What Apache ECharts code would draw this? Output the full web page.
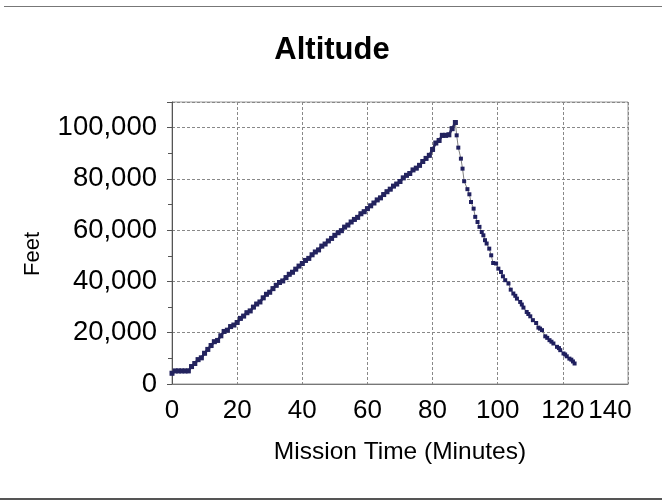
<!DOCTYPE html>
<html>
<head>
<meta charset="utf-8">
<script src="https://cdn.jsdelivr.net/npm/echarts@6/dist/echarts.min.js"></script>
<style>
html,body{margin:0;padding:0;background:#fff;}
#chart{width:662px;height:503px;}
</style>
</head>
<body>
<div id="chart"></div>
<script>
// Ascent: minutes and altitude (feet)
const ascentTime = [0,1,2,3,4,5,6,7,8,9,10,11,12,13,14,15,16,17,18,19,20,21,22,23,24,25,26,27,28,29,30,31,32,33,34,35,36,37,38,39,40,41,42,43,44,45,46,47,48,49,50,51,52,53,54,55,56,57,58,59,60,61,62,63,64,65,66,67,68,69,70,71,72,73,74,75,76,77,78,79,80,81,82,83,84,85,86,87];
const ascentFeet = [4200,5100,5100,5100,5100,5100,6800,8000,9500,10200,12000,13500,15000,16500,17000,18800,20500,21000,22400,23000,24000,25600,26500,27800,28500,30000,31200,32000,33600,35000,35800,37200,38500,39600,40200,41500,42800,43600,44800,46000,47000,48200,49000,50400,51500,52300,53800,54600,55800,56800,58000,59000,59800,61200,62000,63200,64200,65000,66400,67200,68400,69500,70600,71800,72600,73900,75000,76000,77200,78000,79000,80400,81400,82100,83500,84200,85300,86800,88000,89200,91500,94000,95000,97000,97000,97200,99600,102000];
// Descent
const descentTime = [87.4,87.9,88.7,89.2,89.7,90.7,91.3,91.8,92.6,93.1,93.8,94.4,95.1,95.6,96.1,96.6,97.4,98.0,98.6,99.5,100.2,101.0,101.6,102.3,103.3,104.0,104.8,105.4,105.9,106.9,107.4,107.9,108.9,109.4,110.0,110.8,111.8,112.5,113.0,113.6,114.6,115.2,115.9,116.5,117.1,118.2,118.8,119.2,120.2,120.7,121.2,122.0,122.6,123.1,123.6];
const descentFeet = [97000,92200,87900,84000,79100,76000,74000,71000,68400,65200,63200,61300,59300,58000,56100,54800,52800,50200,47200,47000,45000,43700,42000,40500,39200,36800,35300,34400,33300,32000,31000,29800,28100,27300,26400,24900,23800,22000,21600,21000,18600,18000,17100,16500,15800,14500,14000,13200,11900,11500,10800,9900,9500,8800,8000];

const yTicks = [0,20000,40000,60000,80000,100000];

const ascent = ascentTime.map((t,i)=>[t, ascentFeet[i]]);
const descent = descentTime.map((t,i)=>[t, descentFeet[i]]);

const chart = echarts.init(document.getElementById('chart'), null, {renderer:'canvas'});
const font = '"Liberation Sans", Arial, sans-serif';
chart.setOption({
  animation:false,
  backgroundColor:'#ffffff',
  title:{
    text:'Altitude', left:327, top:30, textAlign:'center',
    textStyle:{fontFamily:font, fontSize:31, fontWeight:'bold', color:'#000'}
  },
  grid:{left:172, right:34, top:102, bottom:119, show:true, borderColor:'#999', borderWidth:1, backgroundColor:'transparent'},
  xAxis:{
    type:'value', min:0, max:140, interval:20,
    name:'Mission Time (Minutes)', nameLocation:'middle', nameGap:56,
    nameTextStyle:{fontFamily:font, fontSize:24.5, color:'#000'},
    axisLine:{show:true, lineStyle:{color:'#777', width:1}},
    axisTick:{show:false},
    axisLabel:{fontFamily:font, fontSize:26, color:'#000', margin:14, hideOverlap:false,
      formatter:function(v){ return v===140 ? '{r|140}' : String(v); },
      rich:{r:{fontFamily:font, fontSize:26, color:'#000', padding:[0,36,0,0]}}},
    splitLine:{show:true, lineStyle:{color:'#888', type:[3,2], width:1}}
  },
  yAxis:{
    type:'value', min:0, max:110000, interval:20000,
    axisLine:{show:true, lineStyle:{color:'#555', width:1}},
    axisTick:{show:true, inside:false, length:5, lineStyle:{color:'#555'}},
    minorTick:{show:true, splitNumber:2, length:4, lineStyle:{color:'#555'}},
    axisLabel:{fontFamily:font, fontSize:27.5, color:'#000', margin:15,
      formatter:function(v){ return yTicks.indexOf(v)>=0 ? v.toLocaleString('en-US') : ''; }},
    splitLine:{show:true, lineStyle:{color:'#888', type:[3,2], width:1}}
  },
  series:[{
    type:'line', data:ascent.concat(descent),
    symbol:'rect', symbolSize:4,
    itemStyle:{color:'#1f1f5e'},
    lineStyle:{color:'#808080', width:1}
  },{
    type:'line', data:ascent,
    symbol:'rect', symbolSize:5,
    itemStyle:{color:'#23235e'},
    lineStyle:{color:'#2a2a60', width:2.5}
  }],
  graphic:[
    {type:'line', shape:{x1:4,y1:6.5,x2:662,y2:6.5}, style:{stroke:'#777', lineWidth:1}},
    {type:'line', shape:{x1:0,y1:499,x2:662,y2:499}, style:{stroke:'#555', lineWidth:2}},
    {type:'text', x:33, y:254, rotation:Math.PI/2,
      style:{text:'Feet', font:'22px "Liberation Sans", Arial, sans-serif', fill:'#000', textAlign:'center', textVerticalAlign:'middle'}}
  ]
});
</script>
</body>
</html>
